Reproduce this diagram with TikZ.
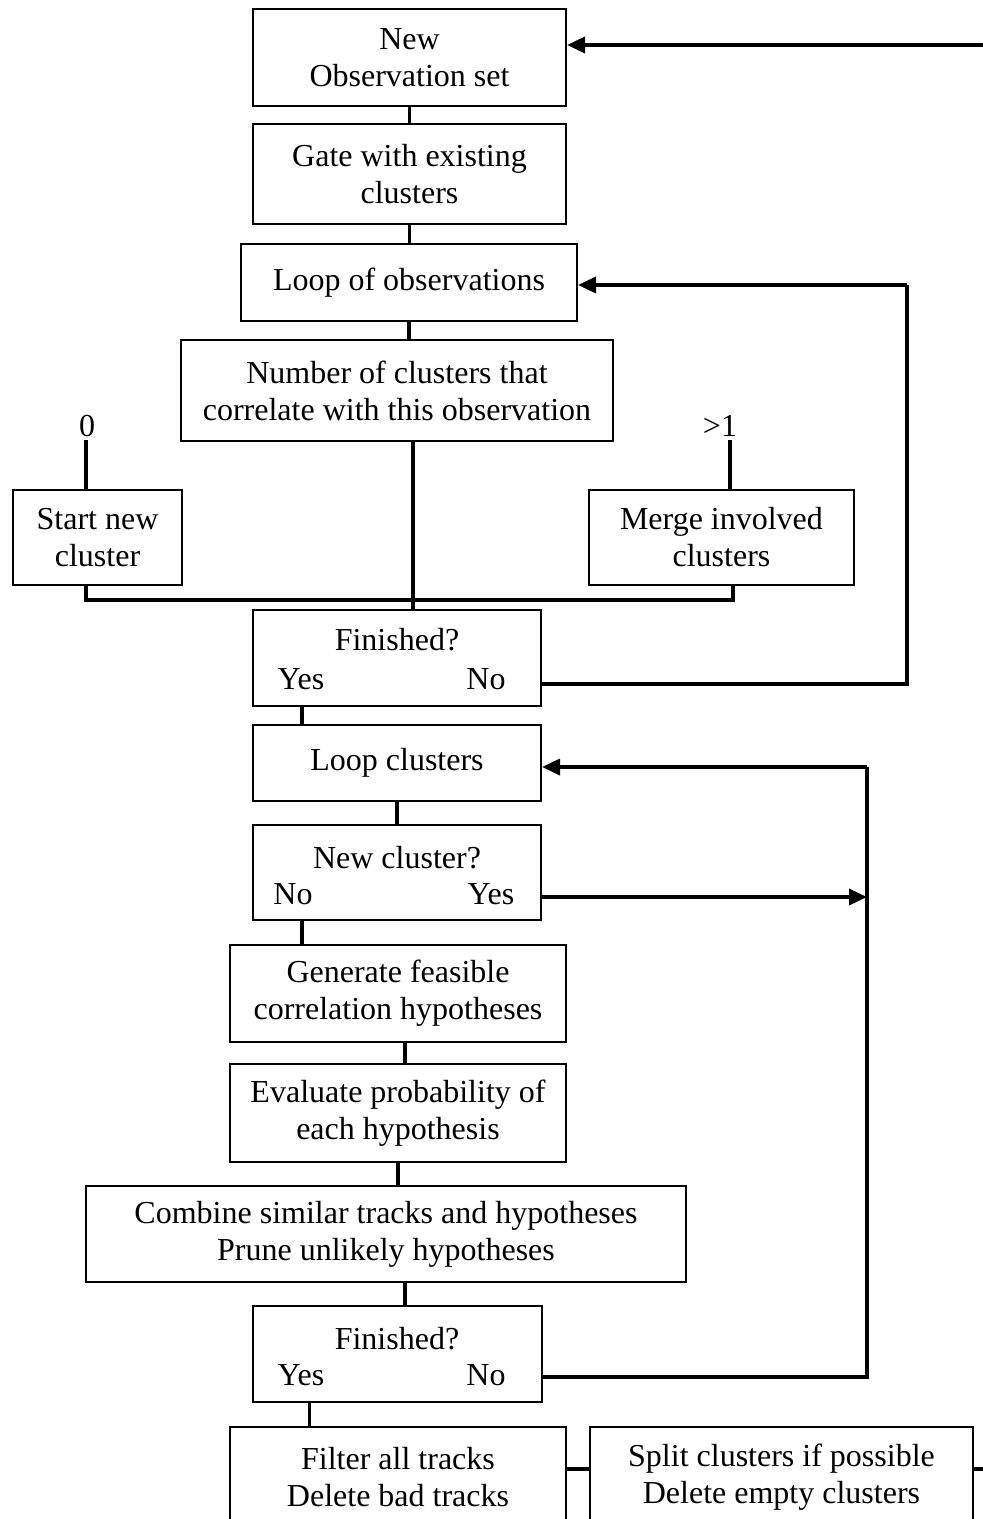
\documentclass[tikz,border=0pt]{standalone}
\usepackage{fontspec}
\setmainfont{Liberation Serif}
\usetikzlibrary{arrows.meta}
\begin{document}
\begin{tikzpicture}[x=1pt,y=-1pt,
  box/.style={draw,line width=2pt,rectangle,inner sep=0pt,align=center,
    font=\fontsize{32}{37}\selectfont},
  lbl/.style={inner sep=0pt,anchor=base,font=\fontsize{32}{37}\selectfont},
  wire/.style={line width=3.5pt},
  arr/.style={wire,-{Triangle[length=18pt,width=16pt]}}]
\useasboundingbox (0,0) rectangle (983,1519);

% process boxes
\node[box,minimum width=313pt,minimum height=97pt] (obs) at (409.5,57.5) {New\\Observation set};
\node[box,minimum width=313pt,minimum height=100pt] (gate) at (409.5,174) {Gate with existing\\clusters};
\node[box,minimum width=336pt,minimum height=77pt] (loopobs) at (409,282.5) {Loop of observations};
\node[box,minimum width=432pt,minimum height=101pt] (number) at (397,390.5) {Number of clusters that\\correlate with this observation};
\node[box,minimum width=169pt,minimum height=95pt] (start) at (97.5,537.5) {Start new\\cluster};
\node[box,minimum width=265pt,minimum height=95pt] (merge) at (721.5,537.5) {Merge involved\\clusters};
\node[box,minimum width=288pt,minimum height=96pt] (fin1) at (397,658) {};
\node[box,minimum width=288pt,minimum height=76pt] (loopcl) at (397,763) {Loop clusters};
\node[box,minimum width=288pt,minimum height=95pt] (newcl) at (397,872.5) {};
\node[box,minimum width=336pt,minimum height=97pt] (gen) at (398,993.5) {Generate feasible\\correlation hypotheses};
\node[box,minimum width=336pt,minimum height=98pt] (eval) at (398,1113) {Evaluate probability of\\each hypothesis};
\node[box,minimum width=600pt,minimum height=96pt] (comb) at (386,1234) {Combine similar tracks and hypotheses\\Prune unlikely hypotheses};
\node[box,minimum width=289pt,minimum height=96pt] (fin2) at (397.5,1354) {};
\node[box,minimum width=336pt,minimum height=100pt] (filter) at (398,1477) {Filter all tracks\\Delete bad tracks};
\node[box,minimum width=383pt,minimum height=100pt] (split) at (781.5,1477) {Split clusters if possible\\Delete empty clusters};

% texts of the decision boxes
\node[lbl] (fin1q) at (397,650) {Finished?};
\node[lbl] (fin1y) at (301,689) {Yes};
\node[lbl] (fin1n) at (486,689) {No};
\node[lbl] (newclq) at (397,868) {New cluster?};
\node[lbl] (newcln) at (293,904) {No};
\node[lbl] (newcly) at (491,904) {Yes};
\node[lbl] (fin2q) at (397,1349) {Finished?};
\node[lbl] (fin2y) at (301,1385) {Yes};
\node[lbl] (fin2n) at (486,1385) {No};

% branch labels
\node[lbl] (zero) at (87,436) {0};
\node[lbl] (many) at (720,436) {>1};

% bend points
\coordinate (in0) at (983,45);
\coordinate (z0) at (86,440);
\coordinate (m0) at (730,440);
\coordinate (jl) at (86,600);
\coordinate (jr) at (733,600);
\coordinate (r1a) at (907,684);
\coordinate (r1b) at (907,285);
\coordinate (r2a) at (867,767);
\coordinate (r2b) at (867,897);
\coordinate (r2c) at (867,1377);
\coordinate (out0) at (983,1469);

% main chain
\draw[arr] (in0) -- (in0 -| obs.east);
\draw[wire] (obs.south) -- (obs.south |- gate.north);
\draw[wire] (gate.south) -- (gate.south |- loopobs.north);
\draw[wire] (loopobs.south) -- (loopobs.south |- number.north);
\draw[wire] ([xshift=16pt]number.south) -- ([xshift=16pt]number.south |- fin1.north);

% branches 0 and >1
\draw[wire] (z0) -- (z0 |- start.north);
\draw[wire] (m0) -- (m0 |- merge.north);
\draw[wire] (jl |- start.south) -- (jl) -- (jr) -- (jr |- merge.south);

% observation loop
\draw[wire] (r1a -| fin1.east) -- (r1a) -- (r1b);
\draw[arr] (r1b) -- (r1b -| loopobs.east);

% cluster loop
\draw[wire] ([xshift=-95pt]fin1.south) -- ([xshift=-95pt]fin1.south |- loopcl.north);
\draw[wire] (loopcl.south) -- (loopcl.south |- newcl.north);
\draw[arr] (r2b -| newcl.east) -- (r2b);
\draw[wire] (r2c -| fin2.east) -- (r2c) -- (r2a);
\draw[arr] (r2a) -- (r2a -| loopcl.east);
\draw[wire] ([xshift=-95pt]newcl.south) -- ([xshift=-95pt]newcl.south |- gen.north);
\draw[wire] ([xshift=7pt]gen.south) -- ([xshift=7pt]gen.south |- eval.north);
\draw[wire] (eval.south) -- (eval.south |- comb.north);
\draw[wire] ([xshift=19pt]comb.south) -- ([xshift=19pt]comb.south |- fin2.north);
\draw[wire] ([xshift=-88pt]fin2.south) -- ([xshift=-88pt]fin2.south |- filter.north);

% track maintenance
\draw[wire] (out0 -| filter.east) -- (out0 -| split.west);
\draw[wire] (out0 -| split.east) -- (out0);
\end{tikzpicture}
\end{document}
